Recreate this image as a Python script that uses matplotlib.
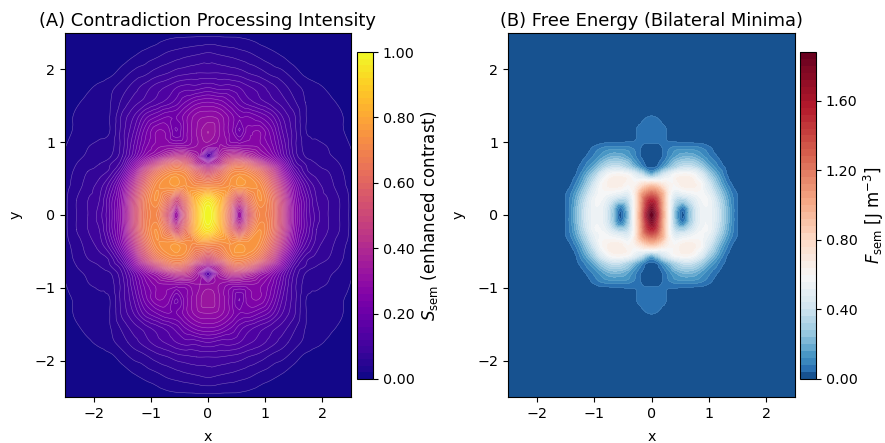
import numpy as np
import matplotlib
matplotlib.use("Agg")
import matplotlib.pyplot as plt
import matplotlib.tri as mtri
from matplotlib.colors import PowerNorm, Normalize

# panel A, upper right quadrant (mirrored when drawn)
s_x = [0, .2, .4, .55, .7, .9, 1.1, 1.3, 1.5, 1.7, 1.9, 2.1, 2.3, 2.5]
s_y = [0, .2, .4, .6, .7, .8, .95, 1.15, 1.35, 1.55, 1.75, 1.95, 2.2, 2.5]
s_vals = [
    [1.0, .85, .55, .32, .52, .70, .66, .48, .28, .17, .11, .08, .06, .035],
    [.95, .84, .62, .50, .62, .74, .66, .47, .27, .17, .10, .08, .06, .035],
    [.72, .72, .74, .76, .75, .73, .60, .41, .24, .14, .09, .07, .05, .032],
    [.50, .58, .70, .72, .70, .62, .48, .30, .16, .09, .07, .06, .045, .028],
    [.35, .42, .58, .62, .58, .47, .36, .24, .12, .08, .06, .05, .04, .024],
    [.15, .35, .44, .44, .40, .33, .27, .18, .10, .06, .05, .043, .035, .022],
    [.30, .30, .28, .28, .28, .27, .23, .16, .09, .052, .045, .039, .03, .019],
    [.34, .30, .25, .20, .25, .26, .21, .14, .09, .042, .034, .028, .023, .015],
    [.30, .29, .25, .22, .22, .20, .17, .12, .085, .042, .032, .027, .022, .015],
    [.24, .23, .20, .17, .15, .13, .11, .09, .065, .04, .03, .024, .018, .012],
    [.16, .15, .15, .14, .125, .11, .09, .07, .05, .035, .025, .017, .01, .005],
    [.10, .10, .095, .09, .08, .07, .055, .045, .03, .015, .008, .004, 0, 0],
    [.065, .06, .055, .05, .045, .035, .027, .018, .008, 0, 0, 0, 0, 0],
    [.012, .012, .012, .012, .01, .005, 0, 0, 0, 0, 0, 0, 0, 0],
]

# panel B, same idea
f_x = [0, .1, .2, .3, .4, .55, .7, .85, 1.0, 1.15, 1.3, 1.4, 1.5, 1.6, 1.8, 2.5]
f_y = [0, .1, .2, .3, .42, .55, .66, .72, .8, .9, .97, 1.05, 1.2, 1.35, 1.45, 1.7, 2.5]
f_vals = [
    [1.88, 1.60, 1.05, .62, .25, .03, .30, .52, .55, .42, .22, .11, .04, .01, 0, 0],
    [1.75, 1.50, 1.02, .62, .28, .08, .32, .52, .55, .41, .22, .11, .04, .01, 0, 0],
    [1.55, 1.40, 1.00, .62, .38, .30, .42, .55, .55, .38, .20, .10, .04, .01, 0, 0],
    [1.25, 1.15, .95, .65, .50, .52, .56, .58, .50, .32, .16, .08, .035, 0, 0, 0],
    [.85, .80, .70, .62, .60, .66, .66, .60, .42, .24, .10, .04, .01, 0, 0, 0],
    [.22, .30, .42, .50, .58, .62, .60, .48, .30, .16, .05, .015, 0, 0, 0, 0],
    [.03, .05, .13, .22, .30, .38, .38, .30, .18, .09, .03, 0, 0, 0, 0, 0],
    [.02, .03, .08, .15, .24, .30, .30, .23, .13, .07, .015, 0, 0, 0, 0, 0],
    [.015, .02, .045, .10, .15, .20, .20, .15, .09, .04, 0, 0, 0, 0, 0, 0],
    [.015, .02, .042, .08, .11, .12, .12, .10, .06, .015, 0, 0, 0, 0, 0, 0],
    [.035, .037, .045, .05, .055, .055, .055, .05, .03, .005, 0, 0, 0, 0, 0, 0],
    [.06, .06, .05, .035, .03, .02, .01, .005, 0, 0, 0, 0, 0, 0, 0, 0],
    [.06, .06, .05, .03, .01, 0, 0, 0, 0, 0, 0, 0, 0, 0, 0, 0],
    [.043, .036, .012, 0, 0, 0, 0, 0, 0, 0, 0, 0, 0, 0, 0, 0],
    [.01, .005, 0, 0, 0, 0, 0, 0, 0, 0, 0, 0, 0, 0, 0, 0],
    [0, 0, 0, 0, 0, 0, 0, 0, 0, 0, 0, 0, 0, 0, 0, 0],
    [0, 0, 0, 0, 0, 0, 0, 0, 0, 0, 0, 0, 0, 0, 0, 0],
]

s_ticks = [0, .2, .4, .6, .8, 1.0]
f_ticks = [0, .4, .8, 1.2, 1.6]
axis_ticks = [-2, -1, 0, 1, 2]

W, H = 885, 443


def px_axes(fig, x0, x1, y0, y1):
    return fig.add_axes([x0 / W, (H - y1) / H, (x1 - x0) / W, (y1 - y0) / H])


def refined(xs, ys, vals):
    # mirror the quadrant, let matplotlib smooth the triangulated field
    xs = np.array(xs)
    ys = np.array(ys)
    vals = np.array(vals, dtype=float)
    full_x = np.concatenate([-xs[:0:-1], xs])
    full_y = np.concatenate([-ys[:0:-1], ys])
    full = np.hstack([vals[:, :0:-1], vals])
    full = np.vstack([full[:0:-1], full])
    gx, gy = np.meshgrid(full_x, full_y)
    tri = mtri.Triangulation(gx.ravel(), gy.ravel())
    interp = mtri.CubicTriInterpolator(tri, full.ravel(), kind="geom")
    refiner = mtri.UniformTriRefiner(tri)
    t2, z2 = refiner.refine_field(full.ravel(), triinterpolator=interp, subdiv=3)
    return t2, np.clip(z2, 0, vals.max())


def panel(ax, cax, xs, ys, vals, levels, cmap, norm, title, label, ticks, lw):
    t2, z2 = refined(xs, ys, vals)
    cf = ax.tricontourf(t2, z2, levels=levels, cmap=cmap, norm=norm)
    ax.tricontour(t2, z2, levels=levels, colors="white", linewidths=lw, alpha=0.35)
    ax.set_xlim(-2.5, 2.5)
    ax.set_ylim(-2.5, 2.5)
    ax.set_xticks(axis_ticks)
    ax.set_yticks(axis_ticks)
    ax.set_xlabel("x", labelpad=6.5)
    ax.set_ylabel("y", labelpad=8)
    ax.set_title(title, fontsize=12.9, pad=5)
    cb = plt.colorbar(cf, cax=cax, ticks=ticks, format="%.2f")
    cb.set_label(label, fontsize=12, labelpad=3)
    return cf


plt.rcParams["font.size"] = 10.3
plt.rcParams["mathtext.default"] = "it"

fig = plt.figure(figsize=(W / 100, H / 100), dpi=100)

ax_a = px_axes(fig, 65, 351, 33, 397)
cax_a = px_axes(fig, 357, 373, 52, 379)
panel(ax_a, cax_a, s_x, s_y, s_vals, np.linspace(0, 1, 51), "plasma",
      Normalize(0, 1), "(A) Contradiction Processing Intensity",
      r"$S_{\mathrm{sem}}$ (enhanced contrast)", s_ticks, 0.4)

ax_b = px_axes(fig, 508, 795, 33, 397)
cax_b = px_axes(fig, 800, 816, 52, 379)
panel(ax_b, cax_b, f_x, f_y, f_vals, np.linspace(0, 1.88, 48), "RdBu_r",
      PowerNorm(0.6, vmin=0, vmax=1.88), "(B) Free Energy (Bilateral Minima)",
      r"$F_{\mathrm{sem}}$ [J m$^{-3}$]", f_ticks, 0.15)

fig.savefig("out.png", dpi=100)
